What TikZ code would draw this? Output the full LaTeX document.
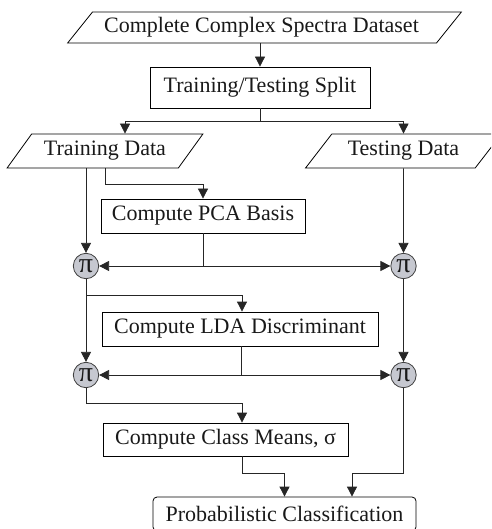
\documentclass[tikz,border=0pt]{standalone}
\usepackage{fontspec}
\setmainfont{Liberation Serif}
\usetikzlibrary{shapes.geometric,arrows.meta}
\definecolor{pigray}{RGB}{198,200,208}
\begin{document}
\begin{tikzpicture}[x=1pt,y=-1pt,
  every node/.style={font=\fontsize{22}{24}\selectfont, text=black!90, inner sep=0pt},
  procbox/.style={draw=black, line width=0.8pt, rectangle},
  roundbox/.style={draw=black, line width=0.8pt, rectangle, rounded corners=4pt},
  dataio/.style={draw=black, line width=0.8pt, trapezium, trapezium stretches=true},
  pinode/.style={draw=black!75, line width=0.8pt, circle, fill=pigray, minimum size=25.4pt, font=\fontsize{28}{28}\selectfont},
  conn/.style={draw=black!85, line width=0.8pt},
  arr/.style={conn, -{Triangle[length=10pt,width=10pt]}}]
\useasboundingbox (0,0) rectangle (491,529);
\clip (0,0) rectangle (491,529);
% nodes
\node[dataio, trapezium left angle=40.7, trapezium right angle=139.3, minimum width=395pt, minimum height=31pt] (ds) at (264.5,27.5) {Complete Complex Spectra Dataset\hspace*{6pt}};
\node[procbox, minimum width=220pt, minimum height=41pt] (split) at (260,87.5) {Training/Testing Split};
\node[dataio, trapezium left angle=43.4, trapezium right angle=136.6, minimum width=196pt, minimum height=34pt] (train) at (105,151) {Training Data};
\node[dataio, trapezium left angle=43.4, trapezium right angle=136.6, minimum width=196pt, minimum height=34pt] (test) at (403.5,151) {Testing Data};
\node[procbox, minimum width=204pt, minimum height=34pt] (pca) at (203,216) {Compute PCA Basis};
\node[pinode] (p1) at (86,266) {π};
\node[pinode] (p2) at (403.5,266) {π};
\node[procbox, minimum width=276pt, minimum height=34pt] (lda) at (240,329) {Compute LDA Discriminant};
\node[pinode] (p3) at (86,375) {π};
\node[pinode] (p4) at (403.5,375) {π};
\node[procbox, minimum width=245pt, minimum height=33pt] (means) at (225.5,439.5) {Compute Class Means, σ};
\node[roundbox, minimum width=263pt, minimum height=34pt] (prob) at (284.5,514) {Probabilistic Classification};
% connectors
\draw[arr] (split.north |- ds.south) -- (split.north);
\coordinate (j1) at (260,121);
\draw[conn] (split.south) -- (j1);
\draw[arr] (j1) -| ([xshift=20pt]train.north);
\draw[arr] (j1) -| (test.north);
\draw[arr] (p1 |- train.south) -- (p1.north);
\draw[arr] (train.south) -- ++(0,16) -| (pca.north);
\draw[arr] (test.south) -- (p2.north);
\coordinate (j2) at (pca.south |- p1);
\draw[conn] (pca.south) -- (j2);
\draw[arr] (j2) -- (p1.east);
\draw[arr] (j2) -- (p2.west);
\draw[arr] (p1.south) -- ++(0,16) -| ([xshift=2pt]lda.north);
\draw[arr] (p1.south) -- (p3.north);
\draw[arr] (p2.south) -- (p4.north);
\coordinate (j3) at ([xshift=1pt]lda.south |- p3);
\draw[conn] ([xshift=1pt]lda.south) -- (j3);
\draw[arr] (j3) -- (p3.east);
\draw[arr] (j3) -- (p4.west);
\draw[arr] (p3.south) -- ++(0,15) -| ([xshift=16.5pt]means.north);
\coordinate (j4) at (p4 |- 0,473);
\draw[arr] ([xshift=16.5pt]means.south) -- ++(0,17) -| (prob.north);
\draw[conn] (p4.south) -- (j4);
\draw[arr] (j4) -| ([xshift=67.5pt]prob.north);
\end{tikzpicture}
\end{document}
